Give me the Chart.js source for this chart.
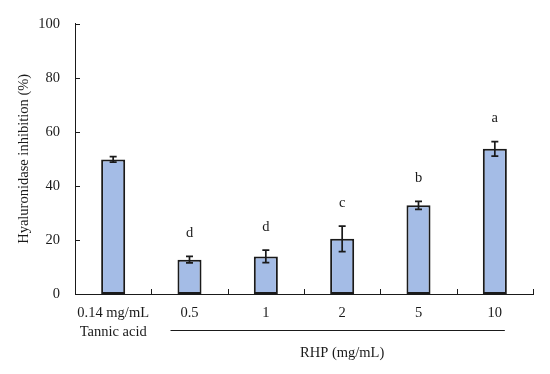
<!DOCTYPE html>
<html>
<head>
<meta charset="utf-8">
<script src="https://cdn.jsdelivr.net/npm/chart.js@4.4.0/dist/chart.umd.min.js"></script>
<style>
html,body{margin:0;padding:0;background:#fff;}
#wrap{width:550px;height:374px;}
</style>
</head>
<body>
<div id="wrap"><canvas id="c" width="550" height="374"></canvas></div>
<script>
const categories = [["0.14 mg/mL", "Tannic acid"], "0.5", "1", "2", "5", "10"];
const inhibition = [49.8, 12.7, 13.9, 20.4, 32.8, 53.7];
const errors = [1.0, 1.2, 2.3, 4.7, 1.5, 2.7];
const letters = ["", "d", "d", "c", "b", "a"];
const yTicks = [0, 20, 40, 60, 80, 100];
const groupTitle = "RHP (mg/mL)";
const yTitle = "Hyaluronidase inhibition (%)";

const FONT = '"Palatino Linotype","Book Antiqua",Palatino,"Liberation Serif","DejaVu Serif",serif';
const INK = '#1a1a1a';

const decor = {
  id: 'decor',
  afterDatasetsDraw(chart) {
    const ctx = chart.ctx;
    const x = chart.scales.x, y = chart.scales.y;
    const area = chart.chartArea;
    ctx.save();
    ctx.strokeStyle = INK;
    ctx.lineWidth = 1;
    yTicks.forEach(v => {
      const py = Math.round(y.getPixelForValue(v)) + 0.5;
      ctx.beginPath();
      ctx.moveTo(area.left, py);
      ctx.lineTo(area.left + 5, py);
      ctx.stroke();
    });
    const n = categories.length;
    const step = x.getPixelForValue(1) - x.getPixelForValue(0);
    for (let i = 0; i < n; i++) {
      const px = Math.round(x.getPixelForValue(i) + step / 2) + 0.5;
      ctx.beginPath();
      ctx.moveTo(px, area.bottom);
      ctx.lineTo(px, area.bottom - 5);
      ctx.stroke();
    }
    ctx.lineWidth = 1.7;
    inhibition.forEach((v, i) => {
      const cx = x.getPixelForValue(i);
      const top = y.getPixelForValue(v + errors[i]);
      const bot = y.getPixelForValue(v - errors[i]);
      ctx.beginPath();
      ctx.moveTo(cx, top); ctx.lineTo(cx, bot);
      ctx.moveTo(cx - 3.5, top); ctx.lineTo(cx + 3.5, top);
      ctx.moveTo(cx - 3.5, bot); ctx.lineTo(cx + 3.5, bot);
      ctx.stroke();
      if (letters[i]) {
        ctx.fillStyle = INK;
        ctx.font = '14.5px ' + FONT;
        ctx.textAlign = 'center';
        ctx.textBaseline = 'middle';
        ctx.fillText(letters[i], cx, top - 23);
      }
    });
    const c1 = x.getPixelForValue(1), c5 = x.getPixelForValue(5);
    ctx.lineWidth = 1;
    ctx.beginPath();
    ctx.moveTo(c1 - 19, 330.5);
    ctx.lineTo(c5 + 10, 330.5);
    ctx.stroke();
    ctx.fillStyle = INK;
    ctx.font = '14.5px ' + FONT;
    ctx.textAlign = 'center';
    ctx.textBaseline = 'middle';
    ctx.fillText(groupTitle, (c1 + c5) / 2, 353);
    ctx.restore();
  }
};

new Chart(document.getElementById('c'), {
  type: 'bar',
  data: {
    labels: categories,
    datasets: [{
      data: inhibition,
      backgroundColor: '#a4bce6',
      borderColor: INK,
      borderWidth: 2,
      borderSkipped: false,
      categoryPercentage: 1,
      barPercentage: 0.315
    }]
  },
  options: {
    responsive: false,
    animation: false,
    devicePixelRatio: 1,
    layout: { padding: { left: 0, right: 17, top: 21, bottom: 0 } },
    plugins: { legend: { display: false }, tooltip: { enabled: false } },
    scales: {
      x: {
        grid: { display: false, drawTicks: false },
        border: { display: true, color: INK, width: 1 },
        ticks: { color: INK, padding: 10, font: { family: FONT, size: 14.5, lineHeight: 1.3 }, maxRotation: 0 },
        afterFit(s) { s.height = 80; }
      },
      y: {
        min: 0, max: 100,
        grid: { display: false, drawTicks: false },
        border: { display: true, color: INK, width: 1 },
        ticks: { stepSize: 20, color: INK, padding: 15, font: { family: FONT, size: 14.5 } },
        title: { display: true, text: yTitle, color: INK, font: { family: FONT, size: 14.5 }, padding: { top: 15, bottom: 0 } },
        afterFit(s) { s.width = 75; }
      }
    }
  },
  plugins: [decor]
});
</script>
</body>
</html>
